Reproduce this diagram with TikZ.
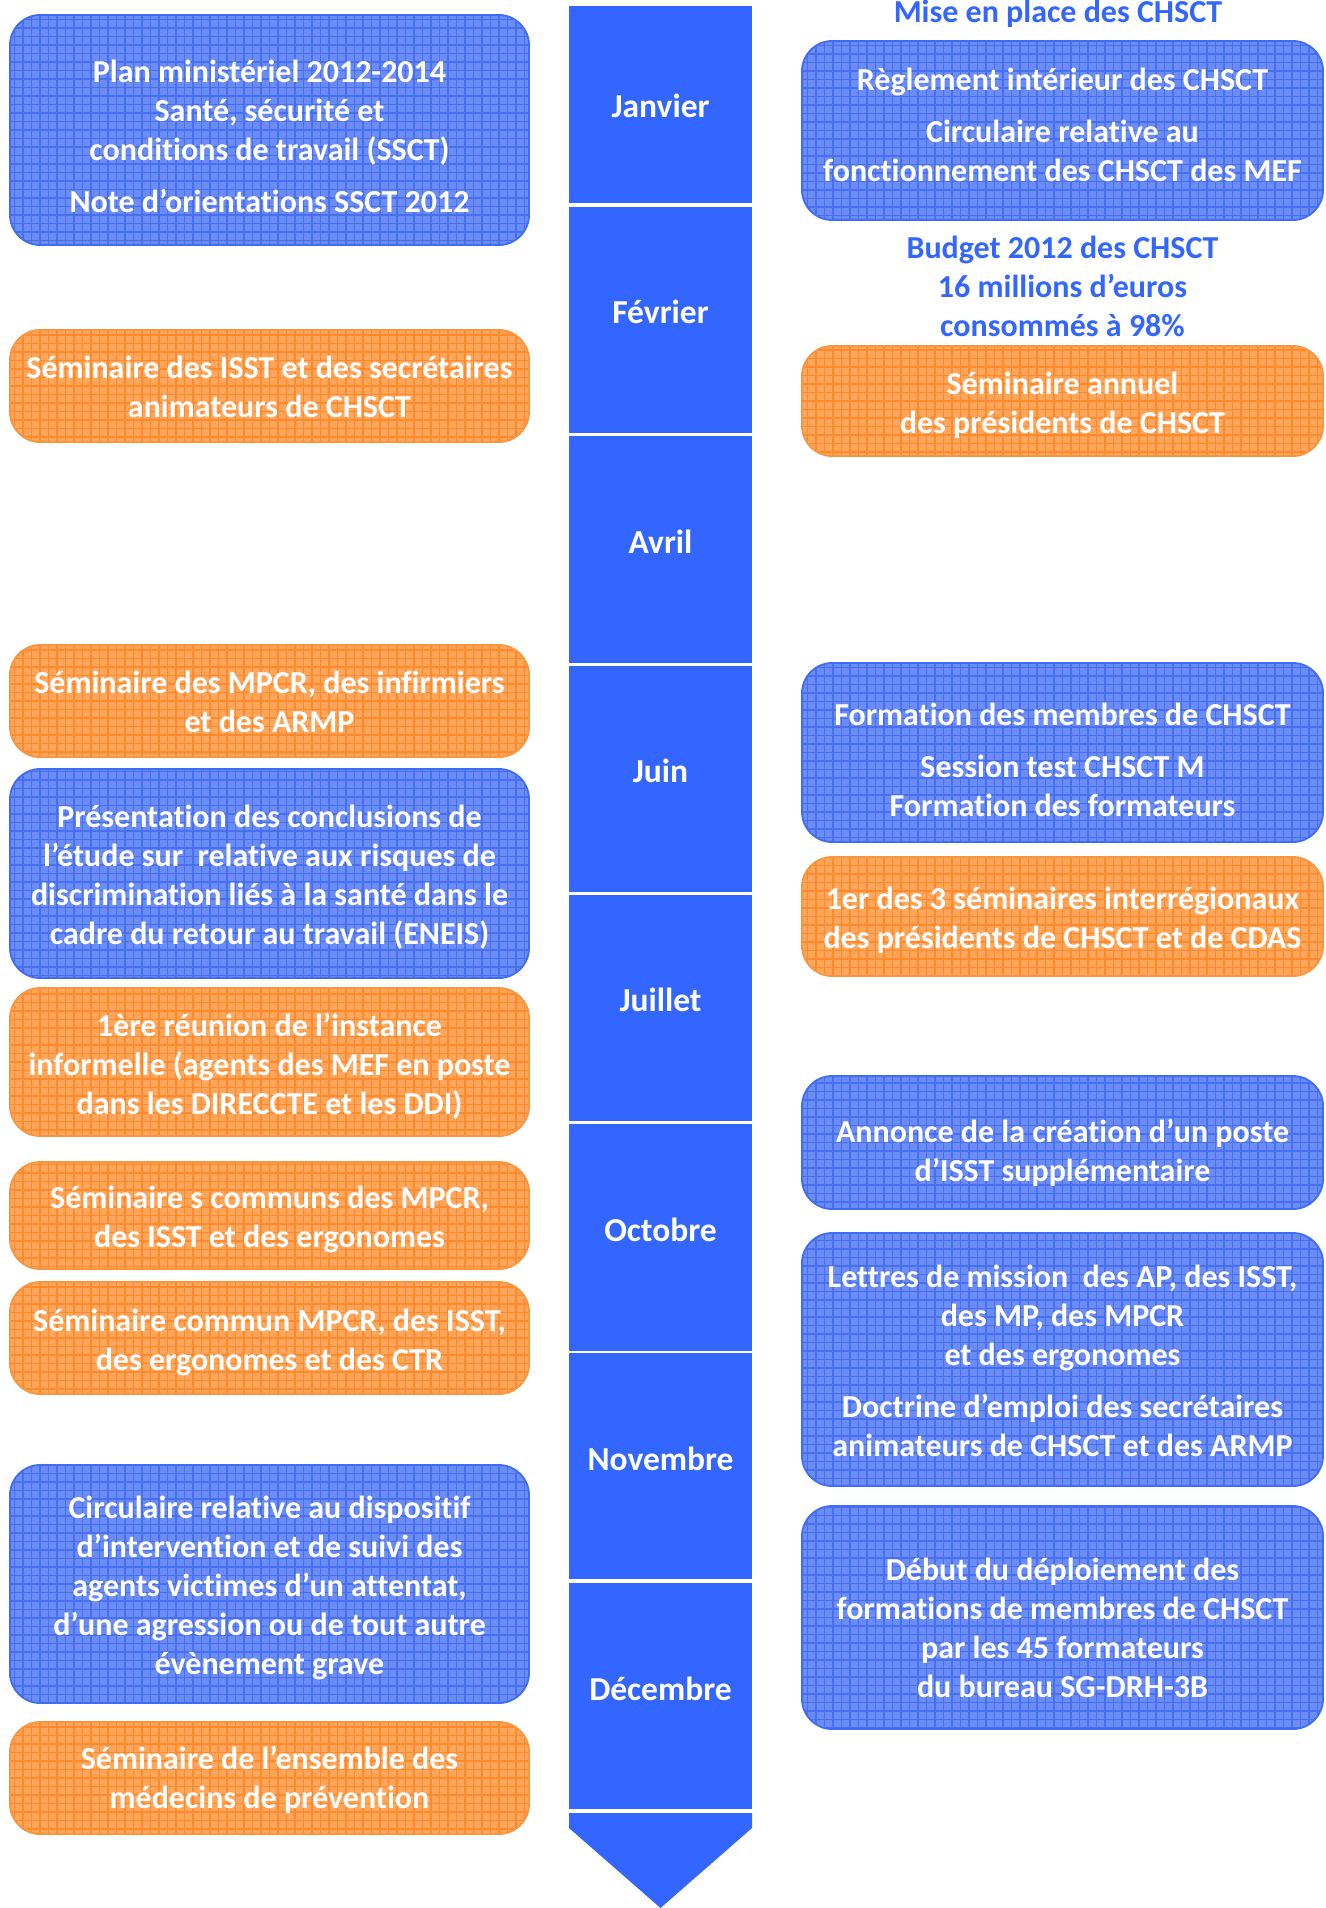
\documentclass[tikz,border=0pt]{standalone}
\usepackage{fontspec}
\setmainfont{Carlito}[Ligatures=NoCommon]
\definecolor{colblue}{HTML}{3366FF}
\definecolor{bfill}{HTML}{6C8CF5}
\definecolor{bgrid}{HTML}{476FF2}
\definecolor{bborder}{HTML}{3F6CF4}
\definecolor{ofill}{HTML}{FFA65A}
\definecolor{ogrid}{HTML}{FF8A2E}
\definecolor{oborder}{HTML}{F8953F}
\tikzset{
  x=1pt, y=-1pt,
  txt/.style={text=white, font=\bfseries\fontsize{32}{39}\selectfont, align=center, inner sep=0pt},
  mtxt/.style={text=white, font=\bfseries\fontsize{33.5}{40}\selectfont, inner sep=0pt},
  tbox/.style={rounded corners=30pt, line width=1.8pt, inner sep=0pt},
  lbox/.style={tbox, minimum width=519pt},
  rbox/.style={tbox, minimum width=521pt},
  bluebox/.style={draw=bborder, fill=bfill,
    path picture={\draw[bgrid, line width=1.3pt] ([shift={(-4pt,-4pt)}]path picture bounding box.south west) grid[step=8.5pt] (path picture bounding box.north east);}},
  orangebox/.style={draw=oborder, fill=ofill,
    path picture={\draw[ogrid, line width=1.3pt] ([shift={(-4pt,-4pt)}]path picture bounding box.south west) grid[step=8.5pt] (path picture bounding box.north east);}},
  month/.style={fill=colblue, minimum width=183pt, inner sep=0pt},
  bluetitle/.style={text=colblue, font=\bfseries\fontsize{32}{39}\selectfont, align=center, inner sep=0pt}
}
\begin{document}
\begin{tikzpicture}
\useasboundingbox (0,0) rectangle (1325,1908);
% timeline column
\node[month, minimum height=197pt] (jan) at (660.5,104.5) {};
\node[month, minimum height=226pt] (feb) at (660.5,320) {};
\node[month, minimum height=227pt] (avr) at (660.5,549.5) {};
\node[month, minimum height=226pt] (jun) at (660.5,779) {};
\node[month, minimum height=226pt] (jul) at (660.5,1008) {};
\node[month, minimum height=227pt] (oct) at (660.5,1237.5) {};
\node[month, minimum height=226pt] (nov) at (660.5,1466) {};
\node[month, minimum height=226pt] (dec) at (660.5,1696) {};
\fill[colblue] (569,1813) -- (752,1813) -- (752,1828) -- (660.5,1908) -- (569,1828) -- cycle;
\node[mtxt, yshift=-1pt] (jant) at (jan.center) {Janvier};
\node[mtxt, yshift=8pt] (febt) at (feb.center) {Février};
\node[mtxt, yshift=8pt] (avrt) at (avr.center) {Avril};
\node[mtxt, yshift=8pt] (junt) at (jun.center) {Juin};
\node[mtxt, yshift=8pt] (jult) at (jul.center) {Juillet};
\node[mtxt, yshift=8pt] (octt) at (oct.center) {Octobre};
\node[mtxt, yshift=7pt] (novt) at (nov.center) {Novembre};
\node[mtxt, yshift=7pt] (dect) at (dec.center) {Décembre};
% left boxes
\node[lbox, bluebox, minimum height=230pt] (l1) at (269.5,130) {};
\node[lbox, orangebox, minimum height=112pt] (l2) at (269.5,386) {};
\node[lbox, orangebox, minimum height=112pt] (l3) at (269.5,701) {};
\node[lbox, bluebox, minimum height=209pt] (l4) at (269.5,873.5) {};
\node[lbox, orangebox, minimum height=148pt] (l5) at (269.5,1062) {};
\node[lbox, orangebox, minimum height=107pt] (l6) at (269.5,1215.5) {};
\node[lbox, orangebox, minimum height=112pt] (l7) at (269.5,1338) {};
\node[lbox, bluebox, minimum height=238pt] (l8) at (269.5,1584) {};
\node[lbox, orangebox, minimum height=112pt] (l9) at (269.5,1778) {};
\node[txt, yshift=-6pt] (l1t) at (l1.center) {Plan ministériel 2012-2014\\Santé, sécurité et\\conditions de travail (SSCT)\\[13pt]Note d’orientations SSCT 2012};
\node[txt, yshift=-1pt] (l2t) at (l2.center) {Séminaire des ISST et des secrétaires\\animateurs de CHSCT};
\node[txt, yshift=-1pt] (l3t) at (l3.center) {Séminaire des MPCR, des infirmiers\\et des ARMP};
\node[txt, yshift=-4pt] (l4t) at (l4.center) {Présentation des conclusions de\\l’étude sur~ relative aux risques de\\discrimination liés à la santé dans le\\cadre du retour au travail (ENEIS)};
\node[txt, yshift=-4pt] (l5t) at (l5.center) {1ère réunion de l’instance\\informelle (agents des MEF en poste\\dans les DIRECCTE et les DDI)};
\node[txt, yshift=-4pt] (l6t) at (l6.center) {Séminaire s communs des MPCR,\\des ISST et des ergonomes};
\node[txt, yshift=-4pt] (l7t) at (l7.center) {Séminaire commun MPCR, des ISST,\\des ergonomes et des CTR};
\node[txt, yshift=-4pt] (l8t) at (l8.center) {Circulaire relative au dispositif\\d’intervention et de suivi des\\agents victimes d’un attentat,\\d’une agression ou de tout autre\\évènement grave};
\node[txt, yshift=-2pt] (l9t) at (l9.center) {Séminaire de l’ensemble des\\médecins de prévention};
% right side
\node[bluetitle] (t1) at (1058,14) {Mise en place des CHSCT};
\node[bluetitle] (t2) at (1062.5,286) {Budget 2012 des CHSCT\\16 millions d’euros\\consommés à 98\%};
\node[rbox, bluebox, minimum height=179pt] (r1) at (1062.5,130.5) {};
\node[rbox, orangebox, minimum height=110pt] (r2) at (1062.5,401) {};
\node[rbox, bluebox, minimum height=179pt] (r3) at (1062.5,752.5) {};
\node[rbox, orangebox, minimum height=119pt] (r4) at (1062.5,916.5) {};
\node[rbox, bluebox, minimum height=133pt] (r5) at (1062.5,1142.5) {};
\node[rbox, bluebox, minimum height=253pt] (r6) at (1062.5,1359.5) {};
\node[rbox, bluebox, minimum height=223pt] (r7) at (1062.5,1617.5) {};
\node[txt, yshift=6pt] (r1t) at (r1.center) {Règlement intérieur des CHSCT\\[13pt]Circulaire relative au\\fonctionnement des CHSCT des MEF};
\node[txt, yshift=-4pt] (r2t) at (r2.center) {Séminaire annuel\\des présidents de CHSCT};
\node[txt, yshift=-7pt] (r3t) at (r3.center) {Formation des membres de CHSCT\\[13pt]Session test CHSCT M\\Formation des formateurs};
\node[txt, yshift=-4pt] (r4t) at (r4.center) {1er des 3 séminaires interrégionaux\\des présidents de CHSCT et de CDAS};
\node[txt, yshift=-10pt] (r5t) at (r5.center) {Annonce de la création d’un poste\\d’ISST supplémentaire};
\node[txt, yshift=-1pt] (r6t) at (r6.center) {Lettres de mission~ des AP, des ISST,\\des MP, des MPCR\\et des ergonomes\\[13pt]Doctrine d’emploi des secrétaires\\animateurs de CHSCT et des ARMP};
\node[txt, yshift=-10pt] (r7t) at (r7.center) {Début du déploiement des\\formations de membres de CHSCT\\par les 45 formateurs\\du bureau SG-DRH-3B};
\end{tikzpicture}
\end{document}
